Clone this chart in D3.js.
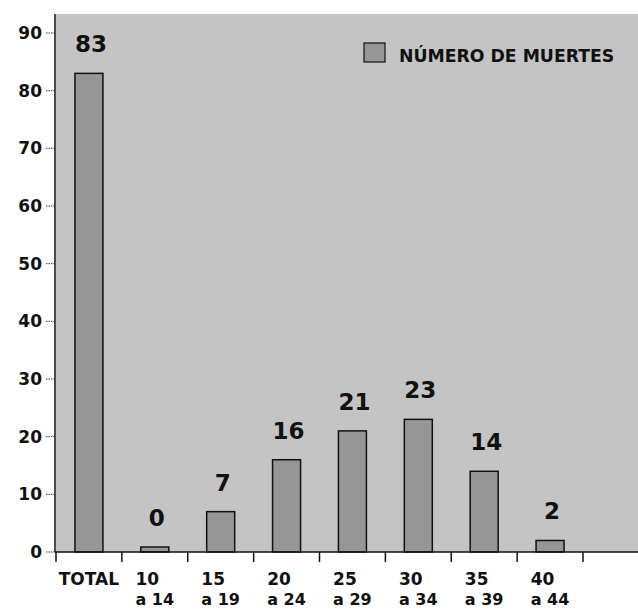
<!DOCTYPE html>
<html>
<head>
<meta charset="utf-8">
<script src="https://cdn.jsdelivr.net/npm/d3@7"></script>
<style>
  body { margin: 0; background: #fff; }
  text { font-family: "DejaVu Sans", sans-serif; font-weight: bold; fill: #111; }
</style>
</head>
<body>
<svg id="chart" width="638" height="610"></svg>
<script>
// data
const groups = ["TOTAL", "10|a 14", "15|a 19", "20|a 24", "25|a 29", "30|a 34", "35|a 39", "40|a 44"];
const deaths = [83, 0, 7, 16, 21, 23, 14, 2];
const yTicks = [0, 10, 20, 30, 40, 50, 60, 70, 80, 90];
const legendLabel = "NÚMERO DE MUERTES";

const plotLeft = 56, plotBottom = 552, plotTop = 14, plotRight = 638;

const svg = d3.select("#chart");

const y = d3.scaleLinear().domain([0, 90]).range([plotBottom, 33]);
const x = d3.scaleBand()
    .domain(groups)
    .range([plotLeft, 583])
    .paddingInner(0.575)
    .paddingOuter(0.2875);
const step = x.step();

// gray stipple background
svg.append("rect")
    .attr("x", plotLeft).attr("y", plotTop)
    .attr("width", plotRight - plotLeft).attr("height", plotBottom - plotTop)
    .attr("fill", "#c4c4c4");

// bars (the zero bar still shows as a thin sliver, like the print)
svg.selectAll(".bar").data(deaths).enter().append("rect")
    .attr("class", "bar")
    .attr("x", (d, i) => x(groups[i]))
    .attr("width", x.bandwidth())
    .attr("y", d => Math.min(y(d), plotBottom - 5))
    .attr("height", d => Math.max(plotBottom - y(d), 5))
    .attr("fill", "#969696")
    .attr("stroke", "#111")
    .attr("stroke-width", 1.5);

// value labels
svg.selectAll(".val").data(deaths).enter().append("text")
    .attr("class", "val")
    .attr("x", (d, i) => x(groups[i]) + x.bandwidth() / 2 + 2)
    .attr("y", d => Math.min(y(d), plotBottom - 5) - 21)
    .attr("text-anchor", "middle")
    .style("font-size", "23px")
    .text(d => d);

// y axis
svg.append("line")
    .attr("x1", plotLeft - 1).attr("x2", plotLeft - 1)
    .attr("y1", plotTop).attr("y2", plotBottom)
    .attr("stroke", "#111").attr("stroke-width", 1.5);

const yt = svg.selectAll(".yt").data(yTicks).enter().append("g")
    .attr("transform", d => `translate(0,${y(d)})`);
yt.append("line")
    .attr("x1", 46).attr("x2", plotLeft - 1)
    .attr("stroke", "#333").attr("stroke-width", 1)
    .attr("stroke-dasharray", "1.5,1");
yt.append("text")
    .attr("x", 42).attr("y", 6)
    .attr("text-anchor", "end")
    .style("font-size", "17px")
    .text(d => d);

// x axis
svg.append("line")
    .attr("x1", plotLeft - 1).attr("x2", plotRight)
    .attr("y1", plotBottom).attr("y2", plotBottom)
    .attr("stroke", "#111").attr("stroke-width", 1.5);

const bounds = groups.map(g => x(g) - step * 0.2875).concat([x(groups[groups.length - 1]) - step * 0.2875 + step]);
svg.selectAll(".xt").data(bounds).enter().append("line")
    .attr("x1", d => d).attr("x2", d => d)
    .attr("y1", plotBottom).attr("y2", plotBottom + 10)
    .attr("stroke", "#111").attr("stroke-width", 1.5);

// category labels: second line centred, first line starts with it
groups.forEach(g => {
    const cx = x(g) + x.bandwidth() / 2;
    const parts = g.split("|");
    if (parts.length === 1) {
        svg.append("text").attr("x", cx).attr("y", 585)
            .attr("text-anchor", "middle").style("font-size", "17px").text(parts[0]);
        return;
    }
    const l2 = svg.append("text").attr("x", cx).attr("y", 605)
        .attr("text-anchor", "middle").style("font-size", "16px").text(parts[1]);
    const w2 = l2.node().getComputedTextLength();
    svg.append("text").attr("x", cx - w2 / 2).attr("y", 585)
        .style("font-size", "17px").text(parts[0]);
});

// legend
svg.append("rect")
    .attr("x", 364).attr("y", 43).attr("width", 21).attr("height", 19)
    .attr("fill", "#969696").attr("stroke", "#111").attr("stroke-width", 1.2);
svg.append("text")
    .attr("x", 399).attr("y", 62)
    .style("font-size", "17.3px")
    .text(legendLabel);
</script>
</body>
</html>
